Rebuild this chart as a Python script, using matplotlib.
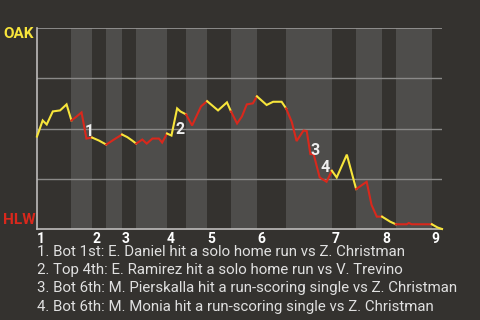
import matplotlib.pyplot as plt

plt.rcParams['font.family'] = ['Roboto', 'DejaVu Sans']

# game progress (0-100) and OAK win probability
prog = [0, 1.4, 2.4, 3.9, 5.7, 7.3, 8.5, 9.8, 11.0, 12.2, 13.6, 15.3, 17.1, 19.0,
        21.0, 22.3, 23.5, 24.5, 26.0, 27.1, 28.5, 30.1, 30.9, 32.1, 33.2, 34.6,
        35.4, 36.8, 38.3, 40.5, 42.0, 44.7, 46.9, 47.9, 49.4, 50.6, 51.8, 53.3,
        54.3, 56.7, 58.3, 60.4, 61.5, 62.9, 64.1, 65.8, 66.6, 67.5, 68.3, 69.8,
        71.5, 72.8, 74.0, 76.5, 78.8, 81.4, 82.6, 83.9, 85.2, 87.2, 88.6, 91.3,
        91.8, 92.5, 97.5, 98.9, 100]
wp = [0.46, 0.54, 0.52, 0.585, 0.59, 0.62, 0.54, 0.56, 0.58, 0.45, 0.455, 0.44,
      0.42, 0.445, 0.47, 0.457, 0.44, 0.425, 0.445, 0.425, 0.45, 0.45, 0.43,
      0.475, 0.465, 0.60, 0.585, 0.57, 0.515, 0.61, 0.636, 0.59, 0.63, 0.585,
      0.525, 0.56, 0.62, 0.625, 0.66, 0.617, 0.633, 0.633, 0.60, 0.533, 0.4375,
      0.49, 0.4875, 0.3725, 0.3725, 0.2565, 0.235, 0.29, 0.2565, 0.37, 0.1985,
      0.235, 0.12, 0.0615, 0.0615, 0.0365, 0.0235, 0.0235, 0.03, 0.0235,
      0.0235, 0.0075, 0.0]

# start of each half inning (top 1st, bot 1st, ...), game ends at 100
halves = [0, 8.5, 13.6, 17.1, 21.0, 24.5, 32.1, 36.8, 42.0, 47.9, 54.3, 61.5,
          72.8, 78.8, 85.2, 88.6, 97.5]
game_end = 100
innings = ['1', '2', '3', '4', '5', '6', '7', '8', '9']

events = ['1. Bot 1st: E. Daniel hit a solo home run vs Z. Christman',
          '2. Top 4th: E. Ramirez hit a solo home run vs V. Trevino',
          '3. Bot 6th: M. Pierskalla hit a run-scoring single vs Z. Christman',
          '4. Bot 6th: M. Monia hit a run-scoring single vs Z. Christman']
ev_x = [12.8, 35.3, 68.6, 71.2]
ev_y = [0.485, 0.495, 0.39, 0.305]

bg = '#34322f'
band = '#4e4d4b'
yellow = '#f7e53b'
red = '#d9281c'

fig = plt.figure(figsize=(4.8, 3.2), dpi=100, facecolor=bg)
ax = fig.add_axes([37/480, 91/320, 405/480, 201/320])
ax.set_facecolor(bg)

ends = halves[1:] + [game_end]
for i, (a, b) in enumerate(zip(halves, ends)):
    if i % 2 == 1:
        ax.axvspan(a, b, color=band, lw=0, zorder=0)
    xs = [x for x in prog if a <= x <= b]
    ys = [y for x, y in zip(prog, wp) if a <= x <= b]
    ax.plot(xs, ys, color=yellow if i % 2 == 0 else red, lw=1.5,
            solid_joinstyle='miter', zorder=3, clip_on=False)

for g in [0.25, 0.5, 0.75]:
    ax.axhline(g, color='#8a8988', lw=1, zorder=1)
ax.axhline(1, color='#9a9998', lw=1.2, zorder=1)

ax.set_xlim(0, game_end)
ax.set_ylim(0, 1)
for s in ['top', 'right']:
    ax.spines[s].set_visible(False)
for s in ['left', 'bottom']:
    ax.spines[s].set_color('#bdbcbb')
    ax.spines[s].set_linewidth(1.2)
ax.set_xticks([])
ax.set_yticks([])

for lab, x in zip(innings, halves[::2]):
    ax.text(x, -0.015, lab, color='white', fontsize=10, fontweight='bold',
            ha='left', va='top', transform=ax.get_xaxis_transform())

for i, (x, y) in enumerate(zip(ev_x, ev_y)):
    ax.text(x, y, str(i + 1), color='#eeeeee', fontsize=11.5, fontweight='bold',
            ha='center', va='center', zorder=4)

fig.text(3/480, 1 - 33.5/320, 'OAK', color=yellow, fontsize=11, fontweight='bold',
         ha='left', va='center')
fig.text(3/480, 1 - 220/320, 'HLW', color=red, fontsize=11, fontweight='bold',
         ha='left', va='center')

for k, t in enumerate(events):
    fig.text(37/480, 1 - (252 + 18.2 * k)/320, t, color='#e0e0e0', fontsize=10.8,
             ha='left', va='center')

fig.savefig('out.png', dpi=100, facecolor=bg)
